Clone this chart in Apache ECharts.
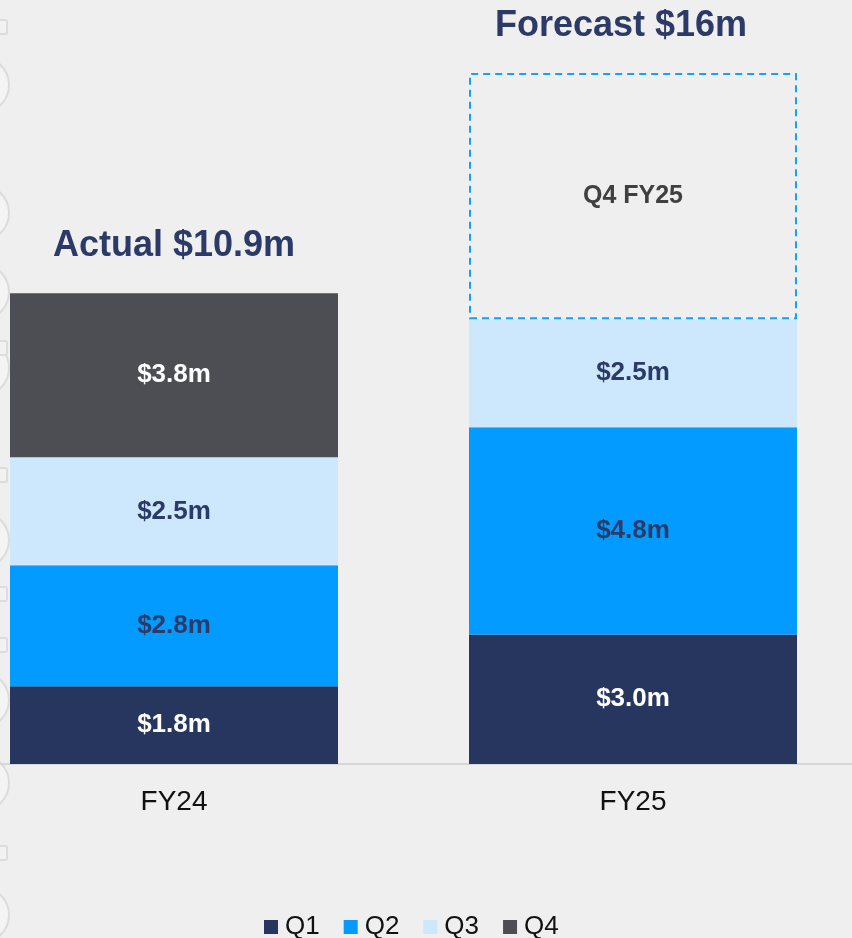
<!DOCTYPE html>
<html>
<head>
<meta charset="utf-8">
<script src="https://cdn.jsdelivr.net/npm/echarts@6/dist/echarts.min.js"></script>
<style>
  html, body { margin: 0; padding: 0; background: #efefef; }
  #chart { width: 852px; height: 938px; }
</style>
</head>
<body>
<div id="chart"></div>
<script>
// data
var years = ['FY24', 'FY25'];
var quarters = ['Q1', 'Q2', 'Q3', 'Q4'];
var q1 = [1.8, 3.0];
var q2 = [2.8, 4.8];
var q3 = [2.5, 2.5];
var q4 = [3.8, 5.7];     // FY25 Q4 is the forecast remainder
var totals = [10.9, 16];
var titles = ['Actual $10.9m', 'Forecast $16m'];

var colors = ['#26365e', '#039bff', '#cde7fc', '#4d4e54'];
var labelColors = ['#ffffff', '#2b3a67', '#2b3a67', '#ffffff'];
var font = 'Liberation Sans, Arial, sans-serif';

let chart = echarts.init(document.getElementById('chart'));

function money(p) {
    return '$' + p.value.toFixed(1) + 'm';
}

function quarterSeries(name, data, idx) {
    return {
        name: name,
        type: 'bar',
        stack: 'total',
        barWidth: 328,
        itemStyle: { color: colors[idx] },
        label: {
            show: true,
            position: 'inside',
            color: labelColors[idx],
            fontFamily: font,
            fontWeight: 'bold',
            fontSize: 26,
            formatter: money
        },
        data: data.slice()
    };
}

var q4Series = quarterSeries('Q4', q4, 3);
// forecast box: dashed outline only
q4Series.data[1] = {
    value: q4[1],
    itemStyle: {
        color: 'rgba(0,0,0,0)',
        borderColor: '#14a0ff',
        borderWidth: 2,
        borderType: [7, 5]
    },
    label: {
        color: '#404040',
        fontSize: 25,
        formatter: 'Q4 FY25'
    }
};

// faint slide decoration on the left edge
var deco = [];
[85, 213, 292, 368, 540, 700, 783, 915].forEach(function (cy) {
    deco.push({
        type: 'circle',
        shape: { cx: -19, cy: cy, r: 28 },
        style: { fill: '#f4f4f4', stroke: '#dcdcdc', lineWidth: 2 },
        z: -1
    });
});
[27, 348, 475, 594, 645, 853].forEach(function (cy) {
    deco.push({
        type: 'rect',
        shape: { x: -8, y: cy - 7, width: 15, height: 14, r: 2 },
        style: { fill: '#f2f2f2', stroke: '#dcdcdc', lineWidth: 2 },
        z: -1
    });
});

var option = {
    backgroundColor: '#efefef',
    animation: false,
    graphic: deco,
    grid: [
        // bars: category centres at the grid edges
        { left: 174, right: 219, top: 73, bottom: 174 },
        // full width baseline
        { left: 0, right: 0, top: 73, bottom: 174 }
    ],
    legend: {
        data: quarters,
        bottom: -7,
        left: 259,
        icon: 'rect',
        itemWidth: 14,
        itemHeight: 14,
        itemGap: 24,
        textStyle: {
            color: '#111111',
            fontSize: 26,
            fontFamily: font,
            padding: [0, 0, 0, 2]
        }
    },
    xAxis: [
        {
            type: 'category',
            data: years,
            boundaryGap: false,
            axisLine: { show: false },
            axisTick: { show: false },
            axisLabel: {
                color: '#111111',
                fontSize: 28,
                margin: 24,
                fontFamily: font
            }
        },
        {
            type: 'category',
            gridIndex: 1,
            data: years,
            axisLine: { lineStyle: { color: '#d6d6d6', width: 2 } },
            axisTick: { show: false },
            axisLabel: { show: false }
        }
    ],
    yAxis: [
        { type: 'value', min: 0, max: 16, show: false },
        { type: 'value', gridIndex: 1, min: 0, max: 16, show: false }
    ],
    series: [
        quarterSeries('Q1', q1, 0),
        quarterSeries('Q2', q2, 1),
        quarterSeries('Q3', q3, 2),
        q4Series,
        {
            name: 'total',
            type: 'scatter',
            symbolSize: 0,
            itemStyle: { opacity: 1, color: 'rgba(0,0,0,0)' },
            data: [
                { value: totals[0], label: { offset: [0, 0] } },
                { value: totals[1], label: { offset: [-12, 0] } }
            ],
            label: {
                show: true,
                position: 'top',
                distance: 29,
                color: '#2b3a67',
                fontWeight: 'bold',
                fontSize: 36,
                fontFamily: font,
                formatter: function (p) { return titles[p.dataIndex]; }
            }
        }
    ]
};

chart.setOption(option);
</script>
</body>
</html>
